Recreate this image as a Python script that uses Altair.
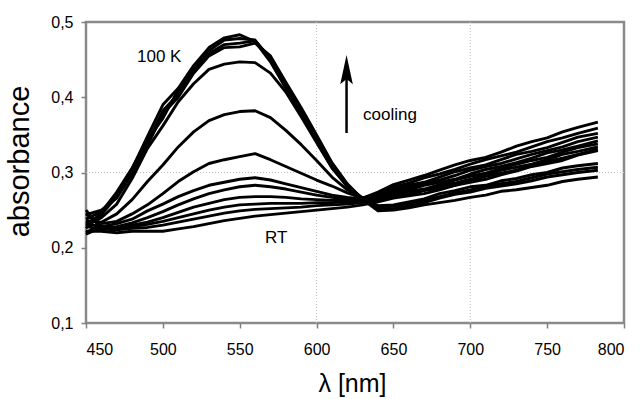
import altair as alt
import pandas as pd

# wavelength grid (nm)
wavelength = [450, 460, 470, 480, 490, 500, 510, 520, 530, 540, 550, 560, 570, 580,
              590, 600, 610, 620, 630, 640, 650, 660, 670, 680, 690, 700, 710, 720,
              730, 740, 750, 760, 770, 783]

# absorbance spectra, from 100 K (c1) to room temperature (c13)
c1 = [.238, .248, .272, .305, .348, .390, .412, .442, .466, .479, .483, .474, .447, .412,
      .377, .342, .307, .281, .265, .256, .257, .261, .265, .272, .276, .281, .283, .289,
      .292, .297, .300, .306, .309, .312]
c2 = [.232, .244, .268, .300, .340, .382, .404, .438, .462, .476, .478, .476, .450, .416,
      .380, .344, .309, .282, .265, .254, .255, .259, .263, .268, .273, .277, .282, .285,
      .288, .293, .298, .301, .304, .307]
c3 = [.226, .247, .274, .306, .343, .372, .410, .436, .458, .470, .472, .475, .452, .418,
      .383, .347, .311, .284, .264, .252, .252, .256, .260, .266, .271, .274, .279, .282,
      .285, .289, .294, .297, .300, .303]
c4 = [.244, .250, .266, .298, .336, .378, .400, .432, .455, .466, .467, .472, .455, .420,
      .386, .350, .313, .285, .264, .249, .250, .253, .257, .260, .263, .267, .270, .275,
      .277, .280, .283, .288, .291, .294]
c5 = [.229, .240, .258, .292, .332, .362, .394, .418, .437, .444, .447, .446, .432, .407,
      .374, .340, .306, .282, .266, .274, .284, .290, .296, .303, .310, .316, .320, .327,
      .335, .341, .346, .354, .360, .367]
c6 = [.236, .234, .245, .264, .288, .310, .334, .354, .369, .377, .381, .382, .373, .356,
      .337, .316, .294, .277, .266, .272, .281, .286, .293, .298, .304, .311, .317, .322,
      .327, .334, .341, .346, .352, .359]
c7 = [.220, .232, .235, .245, .257, .272, .288, .301, .312, .317, .321, .325, .317, .308,
      .299, .290, .282, .273, .266, .270, .278, .283, .287, .294, .301, .306, .310, .317,
      .324, .328, .333, .340, .347, .352]
c8 = [.245, .228, .232, .238, .249, .258, .268, .276, .283, .287, .291, .293, .290, .285,
      .280, .275, .270, .267, .265, .269, .275, .280, .285, .290, .296, .303, .308, .312,
      .318, .324, .329, .334, .341, .347]
c9 = [.228, .225, .228, .233, .240, .248, .257, .265, .272, .277, .281, .283, .281, .278,
      .274, .270, .267, .265, .264, .267, .273, .277, .283, .287, .291, .298, .304, .308,
      .313, .319, .326, .330, .335, .342]
c10 = [.232, .228, .227, .230, .234, .240, .247, .254, .259, .264, .267, .268, .268, .267,
       .265, .264, .263, .263, .263, .266, .271, .275, .278, .284, .290, .295, .299, .305,
       .311, .316, .320, .327, .333, .338]
c11 = [.218, .227, .226, .228, .231, .235, .240, .245, .250, .254, .257, .258, .259, .259,
       .259, .260, .260, .261, .262, .264, .269, .272, .277, .282, .286, .291, .297, .303,
       .307, .311, .317, .324, .328, .334]
c12 = [.250, .225, .224, .226, .227, .230, .234, .238, .242, .246, .249, .251, .252, .253,
       .254, .256, .257, .258, .260, .263, .267, .271, .276, .279, .283, .289, .295, .299,
       .303, .309, .315, .319, .324, .331]
c13 = [.222, .222, .220, .222, .222, .222, .225, .228, .232, .236, .239, .242, .244, .246,
       .248, .250, .252, .254, .257, .261, .266, .269, .272, .277, .283, .287, .291, .297,
       .302, .308, .312, .316, .323, .329]

curves = {"c01": c1, "c02": c2, "c03": c3, "c04": c4, "c05": c5, "c06": c6, "c07": c7,
          "c08": c8, "c09": c9, "c10": c10, "c11": c11, "c12": c12, "c13": c13}

x_ticks = [450, 500, 550, 600, 650, 700, 750, 800]
y_ticks = [0.1, 0.2, 0.3, 0.4, 0.5]
grid_x = [600, 700]
grid_y = [0.3]

labels_text = ["100 K", "cooling", "RT"]
labels_wl = [483.2, 630.2, 566.5]
labels_abs = [0.4468, 0.3698, 0.2063]

arrow_wl = [619.5]
arrow_from = [0.3525]
arrow_to = [0.43]
arrow_head = [0.4362]

rows = []
for name, vals in curves.items():
    for w, v in zip(wavelength, vals):
        rows.append({"curve": name, "wl": w, "abs": v})
df = pd.DataFrame(rows)

FONT = "Liberation Sans"

xscale = alt.Scale(domain=[450, 800], nice=False, zero=False)
yscale = alt.Scale(domain=[0.1, 0.5], nice=False, zero=False)

xaxis = alt.Axis(values=x_ticks, grid=False, domain=False, tickColor="#808080",
                 tickSize=5, tickWidth=1.5, labelFont=FONT, labelFontSize=16,
                 labelColor="black", labelPadding=13, title="λ [nm]",
                 titleFont=FONT, titleFontSize=25, titleFontWeight="normal",
                 titleColor="black", titleX=266, titleY=68, titleAlign="center",
                 titleBaseline="alphabetic")
yaxis = alt.Axis(values=y_ticks, grid=False, domain=False, tickColor="#808080",
                 tickSize=5, tickWidth=1.5, labelFont=FONT, labelFontSize=16,
                 labelColor="black", labelPadding=8,
                 labelExpr="replace(format(datum.value, '.1f'), '.', ',')",
                 title="absorbance", titleFont=FONT, titleFontSize=29,
                 titleFontWeight="normal", titleColor="black", titleAngle=270,
                 titleX=-58, titleY=139, titleAlign="center",
                 titleBaseline="alphabetic")

gx = alt.Chart(pd.DataFrame({"wl": grid_x})).mark_rule(
    color="#c0c0c0", strokeDash=[1, 2], strokeWidth=1
).encode(x=alt.X("wl:Q", scale=xscale, axis=xaxis), y=alt.datum(0.1), y2=alt.datum(0.5))

gy = alt.Chart(pd.DataFrame({"abs": grid_y})).mark_rule(
    color="#c0c0c0", strokeDash=[1, 2], strokeWidth=1
).encode(y=alt.Y("abs:Q", scale=yscale, axis=yaxis), x=alt.datum(450), x2=alt.datum(800))

lines = alt.Chart(df).mark_line(color="black", strokeWidth=2.9, strokeJoin="round").encode(
    x=alt.X("wl:Q", scale=xscale, axis=xaxis),
    y=alt.Y("abs:Q", scale=yscale, axis=yaxis),
    detail="curve:N",
)

ann = alt.Chart(pd.DataFrame({"wl": labels_wl, "abs": labels_abs, "t": labels_text})).mark_text(
    font=FONT, fontSize=17, color="black", align="left", baseline="alphabetic"
).encode(x=alt.X("wl:Q", scale=xscale), y=alt.Y("abs:Q", scale=yscale), text="t:N")

arrow_df = pd.DataFrame({"wl": arrow_wl, "a0": arrow_from, "a1": arrow_to, "ah": arrow_head})
arrow_line = alt.Chart(arrow_df).mark_rule(color="black", strokeWidth=2.5).encode(
    x=alt.X("wl:Q", scale=xscale), y=alt.Y("a0:Q", scale=yscale), y2="a1:Q"
)
arrow_tip = alt.Chart(arrow_df).mark_point(
    shape="M0,-1L0.42,0.95L0,0.6L-0.42,0.95Z", size=900, filled=True,
    color="black", opacity=1, strokeWidth=0
).encode(x=alt.X("wl:Q", scale=xscale), y=alt.Y("ah:Q", scale=yscale))

chart = alt.layer(gx, gy, lines, ann, arrow_line, arrow_tip).properties(
    width=538, height=301,
    autosize=alt.AutoSizeParams(type="none"),
    padding={"left": 86, "top": 22, "right": 16, "bottom": 76},
    background="white",
).configure_view(stroke="#8a8a8a", strokeWidth=2.5)

chart.save("out.html", embed_options={"renderer": "svg", "actions": False})
